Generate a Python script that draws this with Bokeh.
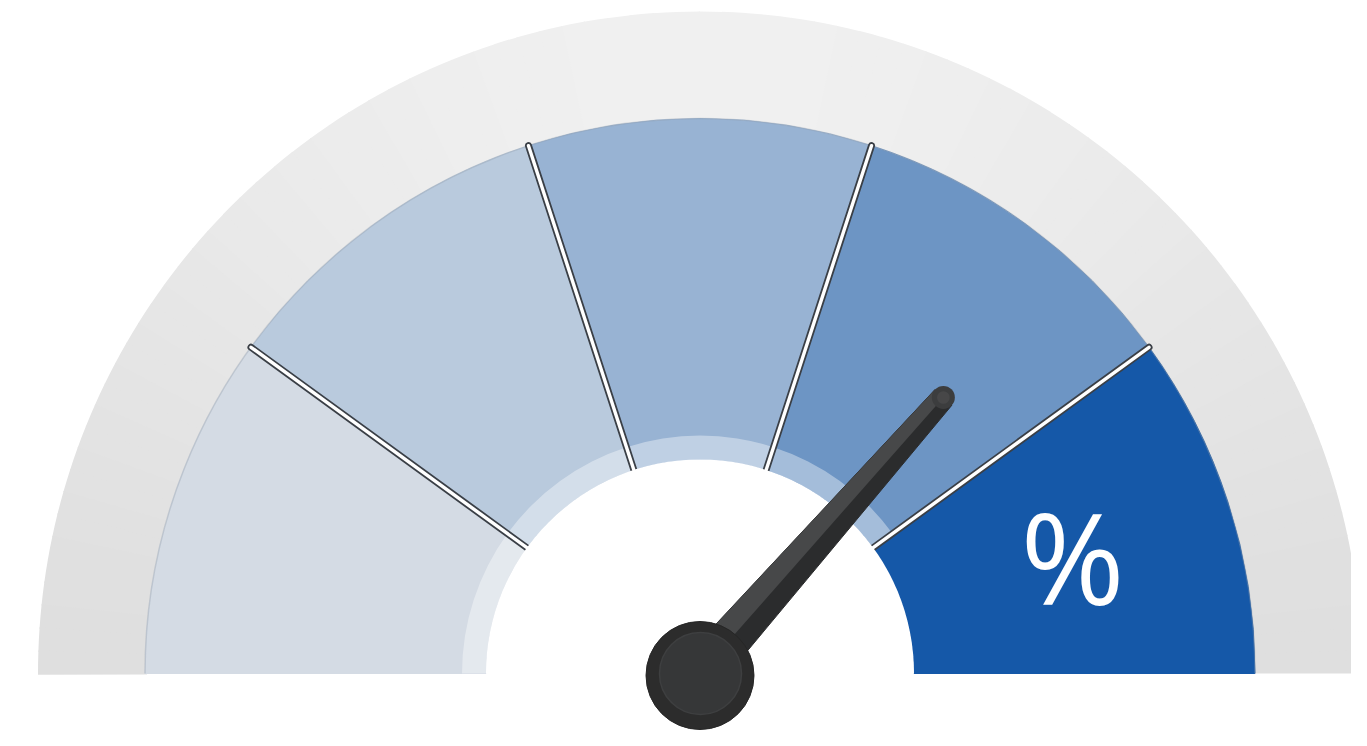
import numpy as np
from bokeh.plotting import figure
from bokeh.models import Range1d, ColumnDataSource
from bokeh.core.properties import value
from bokeh.embed import file_html
from bokeh.resources import INLINE

# ---- data ----
segments = ["Band 1", "Band 2", "Band 3", "Band 4", "Band 5"]
segment_values = [20, 20, 20, 20, 20]
segment_colors = ["#d4dbe4", "#b9cadd", "#98b3d3", "#6d95c4", "#1558a8"]
needle_value = 73          # percent of the dial
label_text = "%"
label_segment = 4          # index of segment holding the label

# ---- geometry (styling) ----
R_OUT = 662
R_SEG = 555
R_IN = 214
R_BAND = 238

p = figure(width=1351, height=730, output_backend="svg", toolbar_location=None,
           x_range=Range1d(-699.5, 651.5), y_range=Range1d(-57, 673),
           min_border=0, outline_line_color=None, background_fill_color="white",
           border_fill_color="white", match_aspect=False)
p.axis.visible = False
p.grid.visible = False

# gray outer ring with a soft gradient (lighter at top)
n = 90
edges = np.linspace(0, np.pi, n + 1)
mids = (edges[:-1] + edges[1:]) / 2
gray_cols = []
for a in mids:
    L = int(round(223 + 17 * np.sin(a) ** 1.5))
    gray_cols.append("#%02x%02x%02x" % (L, L, L))
p.annular_wedge(x=0, y=0, inner_radius=R_SEG - 2, outer_radius=R_OUT,
                start_angle=edges[:-1], end_angle=edges[1:] + 0.002,
                fill_color=gray_cols, line_color=None)

# colored segments (angles from values, drawn left -> right)
total = sum(segment_values)
cum = np.cumsum([0] + segment_values)
starts = [np.pi - np.pi * cum[i + 1] / total for i in range(len(segment_values))]
ends = [np.pi - np.pi * cum[i] / total for i in range(len(segment_values))]
src = ColumnDataSource(dict(name=segments, start=starts, end=ends, color=segment_colors))
p.annular_wedge(x=0, y=0, inner_radius=R_IN, outer_radius=R_SEG,
                start_angle="start", end_angle="end", fill_color="color",
                line_color="color", line_width=1, source=src)

# subtle darker outer rim
p.arc(x=0, y=0, radius=R_SEG, start_angle=0, end_angle=np.pi,
      line_color="#8e9aa8", line_alpha=0.35, line_width=1.5)

# lighter inner band on all but the last segment
p.annular_wedge(x=0, y=0, inner_radius=R_IN, outer_radius=R_BAND,
                start_angle=starts[-2], end_angle=np.pi,
                fill_color="white", fill_alpha=0.38, line_color=None)

# separators between segments
sep_angles = starts[:-1]
x0 = [R_IN * np.cos(a) for a in sep_angles]
y0 = [R_IN * np.sin(a) for a in sep_angles]
x1 = [R_SEG * np.cos(a) for a in sep_angles]
y1 = [R_SEG * np.sin(a) for a in sep_angles]
p.segment(x0=x0, y0=y0, x1=x1, y1=y1, line_color="#3a3f46", line_width=7,
          line_cap="round")
p.segment(x0=x0, y0=y0, x1=x1, y1=y1, line_color="white", line_width=3.4,
          line_cap="round")

# white hole
p.wedge(x=0, y=0, radius=R_IN, start_angle=0, end_angle=np.pi,
        fill_color="white", line_color=None)

# label
la = (starts[label_segment] + ends[label_segment]) / 2
lr = (R_IN + R_SEG) / 2
p.text(x=[lr * np.cos(la)], y=[lr * np.sin(la)], text=[label_text],
       text_color="white", text_font=value("Open Sans"), text_font_size="126px",
       text_align="center", text_baseline="middle", x_offset=7, y_offset=1)

# needle
ang = np.pi - np.pi * needle_value / 100
ux, uy = np.cos(ang), np.sin(ang)
vx, vy = -uy, ux
L_N = 368
w0, w1 = 22, 11.5
nx = [w0 * vx, L_N * ux + w1 * vx, L_N * ux - w1 * vx, -w0 * vx]
ny = [w0 * vy, L_N * uy + w1 * vy, L_N * uy - w1 * vy, -w0 * vy]
p.patch(nx, ny, fill_color="#2b2c2d", line_color="#2b2c2d", line_width=1)
# lighter left half
hx = [w0 * vx, L_N * ux + w1 * vx, L_N * ux, 0]
hy = [w0 * vy, L_N * uy + w1 * vy, L_N * uy, 0]
p.patch(hx, hy, fill_color="#474849", line_color=None)
p.circle(x=[L_N * ux], y=[L_N * uy], radius=w1, fill_color="#3c3d3e", line_color=None)
p.circle(x=[L_N * ux], y=[L_N * uy], radius=w1 * 0.55,
         fill_color="#4e4f50", fill_alpha=0.6, line_color=None)

# hub
p.circle(x=[0], y=[-2], radius=54, fill_color="#2c2c2c", line_color="#262626", line_width=1)
p.circle(x=[0.5], y=[0], radius=41, fill_color="#363738", line_color="#3e3f40",
         line_width=1.5)

open("out.html", "w").write(file_html(p, INLINE))
